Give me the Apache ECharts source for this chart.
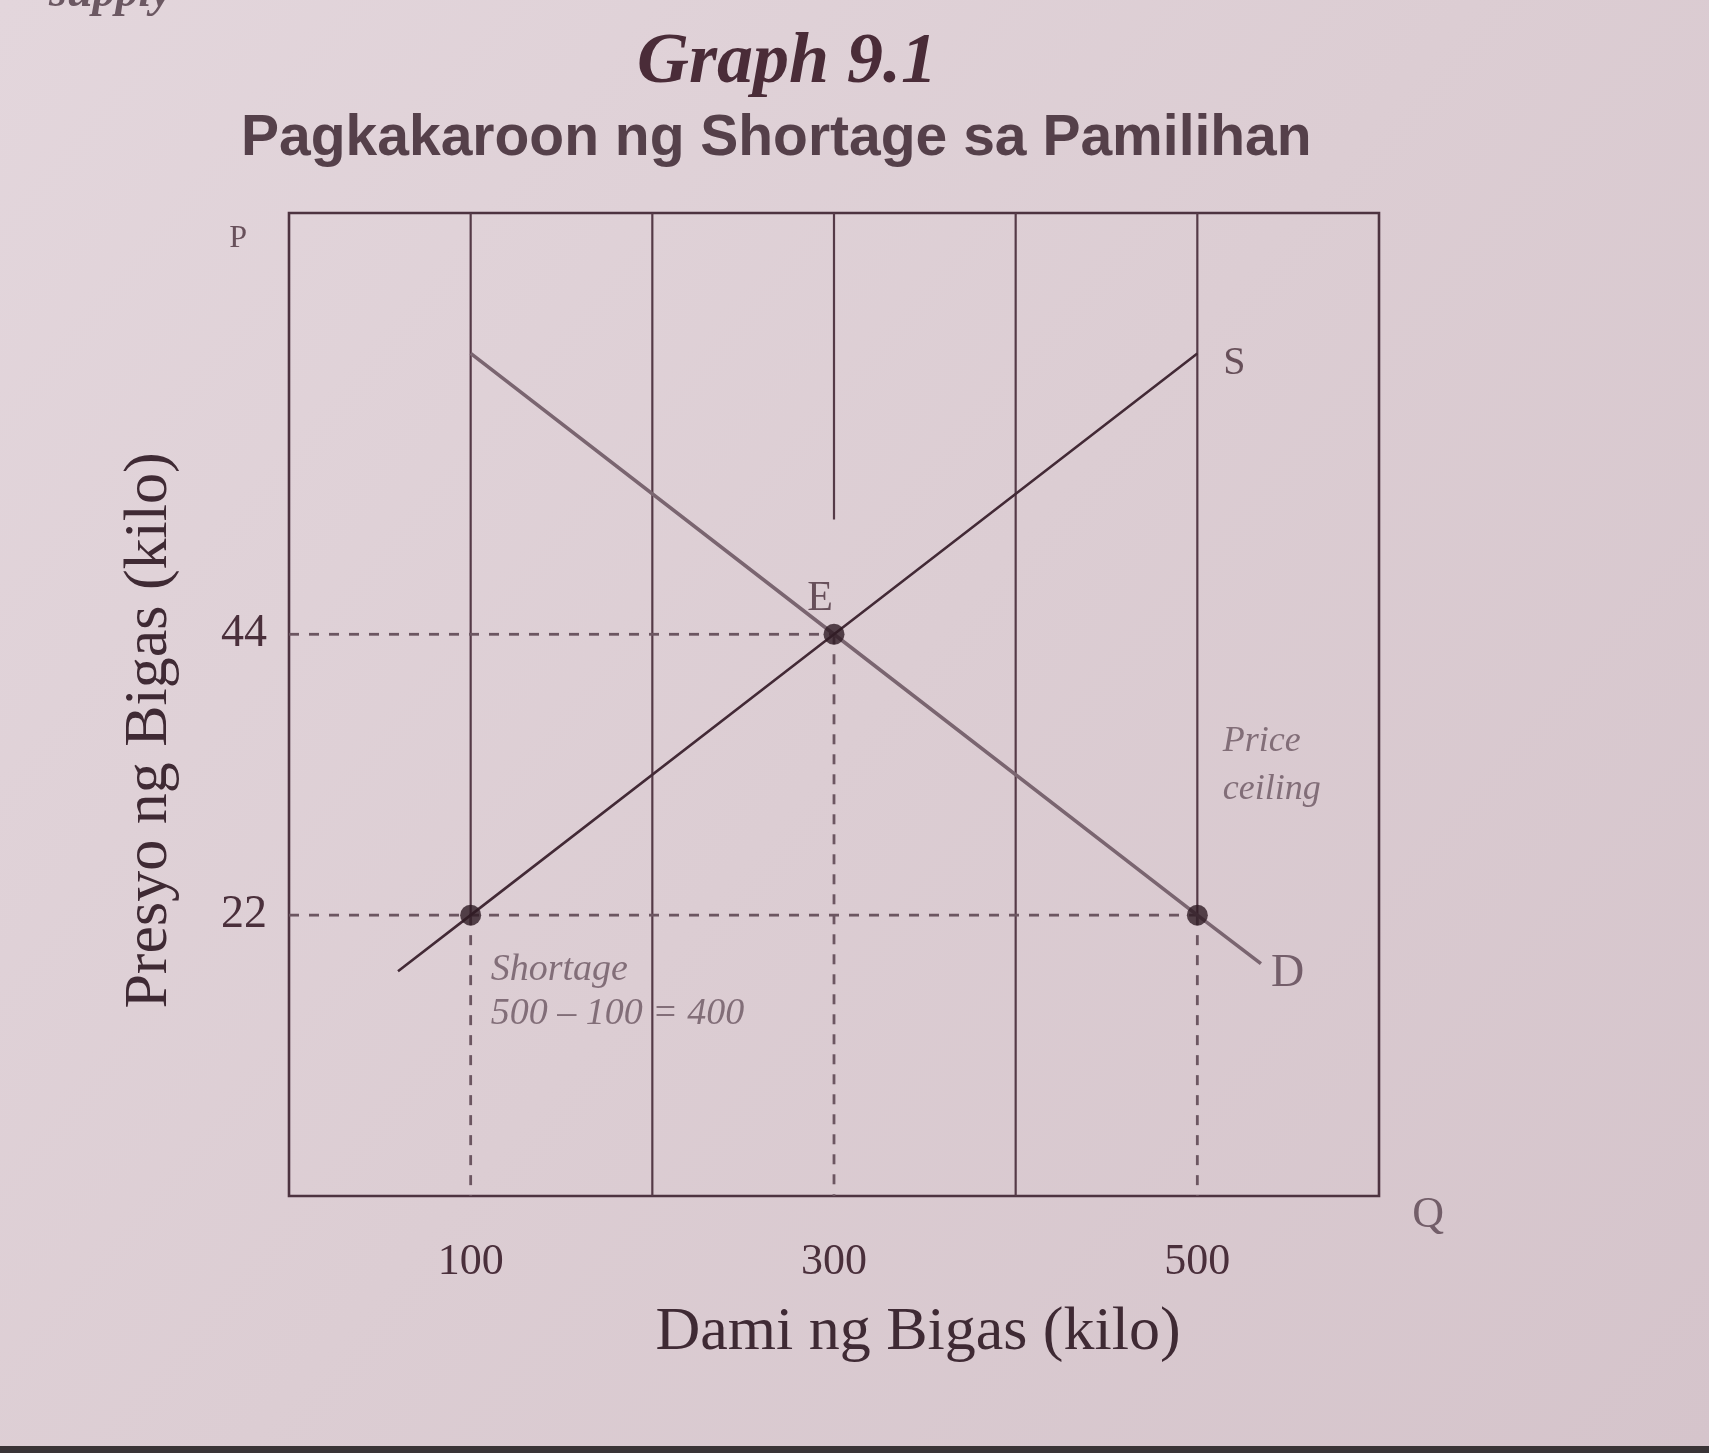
<!DOCTYPE html>
<html>
<head>
<meta charset="utf-8">
<script src="https://cdn.jsdelivr.net/npm/echarts@6/dist/echarts.min.js"></script>
<style>
  html, body { margin: 0; padding: 0; background: #dccdd3; }
  #chart { width: 1709px; height: 1453px; }
</style>
</head>
<body>
<div id="chart"></div>
<script>
// ---- data ----
const qtyTickLabels = [100, 300, 500];
const priceTickLabels = [22, 44];
const supplyQ = [60, 100, 300, 500];
const supplyP = [17.6, 22, 44, 66];
const demandQ = [100, 300, 500, 535];
const demandP = [66, 44, 22, 18.2];
const keyQ = [100, 300, 500];          // E, shortage ends
const keyP = [22, 44, 22];
const gridQ = [100, 200, 300, 400, 500];   // vertical rulings
const gridStopP = [22, 0, 53, 0, 22];      // where each solid ruling stops
const axisMaxQ = 600;
const axisMaxP = 77;

// annotation texts (anchored in data coordinates)
const noteText = ['E', 'S', 'D', 'Price\nceiling', 'Shortage\n500 – 100 = 400', 'P', 'Q'];
const noteQ = [300, 500, 535, 514, 111, -28, 627];
const noteP = [44, 66, 18.2, 33.7, 16, 75, -1.5];

const SERIF = '"Liberation Serif", "DejaVu Serif", serif';
const SANS = '"Liberation Sans", Arial, sans-serif';
const INK = '#4a2f3b';
const SOFT = '#6c5661';

const chart = echarts.init(document.getElementById('chart'), null, { renderer: 'canvas' });

const series = [];

// solid vertical rulings
gridQ.forEach((q, i) => {
  series.push({
    type: 'line', silent: true, symbol: 'none', z: 1,
    data: [[q, axisMaxP], [q, gridStopP[i]]],
    lineStyle: { color: '#553a47', width: 2.2 }
  });
});

// dashed drop lines from key points
keyQ.forEach((q, i) => {
  series.push({
    type: 'line', silent: true, symbol: 'none', z: 2,
    data: [[q, keyP[i]], [q, 0]],
    lineStyle: { color: SOFT, width: 2.8, type: [10, 10] }
  });
});

// dashed horizontal lines from the price axis to the farthest key point at that price
[...new Set(keyP)].forEach(p => {
  const farQ = Math.max(...keyQ.filter((q, i) => keyP[i] === p));
  series.push({
    type: 'line', silent: true, symbol: 'none', z: 2,
    data: [[0, p], [farQ, p]],
    lineStyle: { color: SOFT, width: 2.8, type: [10, 10] }
  });
});

// supply
series.push({
  name: 'S', type: 'line', symbol: 'none', z: 4,
  data: supplyQ.map((q, i) => [q, supplyP[i]]),
  lineStyle: { color: '#432a36', width: 2.6 }
});

// demand
series.push({
  name: 'D', type: 'line', symbol: 'none', z: 3,
  data: demandQ.map((q, i) => [q, demandP[i]]),
  lineStyle: { color: '#7a6570', width: 3.6 }
});

// key points
series.push({
  type: 'scatter', z: 6, symbolSize: 21,
  data: keyQ.map((q, i) => [q, keyP[i]]),
  itemStyle: { color: '#2e1a23' }
});

// annotation labels
const noteStyles = [
  { position: 'top', distance: 14, offset: [-14, 0], fontSize: 42, fontFamily: SERIF, color: INK },
  { position: 'right', distance: 26, offset: [0, 10], fontSize: 40, fontFamily: SERIF, color: INK },
  { position: 'right', distance: 10, offset: [0, 10], fontSize: 46, fontFamily: SERIF, color: '#5a4450' },
  { position: 'right', distance: 0, fontSize: 36, fontStyle: 'italic', fontFamily: SERIF, color: SOFT, lineHeight: 48, align: 'left' },
  { position: 'right', distance: 0, fontSize: 38, fontStyle: 'italic', fontFamily: SERIF, color: SOFT, lineHeight: 44, align: 'left' },
  { position: 'inside', fontSize: 32, fontFamily: SERIF, color: INK },
  { position: 'inside', fontSize: 44, fontFamily: SERIF, color: '#5a4450' }
];
series.push({
  type: 'scatter', z: 7, symbolSize: 0, clip: false, silent: true,
  itemStyle: { color: 'rgba(0,0,0,0)' },
  data: noteText.map((t, i) => ({
    value: [noteQ[i], noteP[i]],
    label: Object.assign({ show: true, formatter: t }, noteStyles[i])
  }))
});

const option = {
  backgroundColor: {
    type: 'linear', x: 0, y: 0, x2: 1, y2: 1,
    colorStops: [{ offset: 0, color: '#e3d6dc' }, { offset: 0.5, color: '#dccdd3' }, { offset: 1, color: '#d5c4cb' }]
  },
  animation: false,
  title: [
    {
      text: 'Graph 9.1', left: 632, top: 22,
      textStyle: { fontFamily: SERIF, fontSize: 72, fontStyle: 'italic', fontWeight: 'bold', color: '#4a2c38' }
    },
    {
      text: 'Pagkakaroon ng Shortage sa Pamilihan', left: 236, top: 106,
      textStyle: { fontFamily: SANS, fontSize: 57, fontWeight: 'bold', color: '#55404a' }
    },
    {
      text: 'supply', left: 44, top: -34,
      textStyle: { fontFamily: SERIF, fontSize: 46, fontStyle: 'italic', color: '#6b5862' }
    }
  ],
  grid: {
    left: 289, right: 330, top: 213, bottom: 257,
    show: true, borderColor: '#4d3340', borderWidth: 2.6, backgroundColor: 'transparent'
  },
  xAxis: {
    type: 'value', min: 0, max: axisMaxQ, interval: 100,
    axisLine: { show: false }, axisTick: { show: false }, splitLine: { show: false },
    axisLabel: {
      margin: 44, fontSize: 44, fontFamily: SERIF, color: INK,
      formatter: v => qtyTickLabels.includes(v) ? String(v) : ''
    },
    name: 'Dami ng Bigas (kilo)', nameLocation: 'middle', nameGap: 106,
    nameTextStyle: { fontFamily: SERIF, fontSize: 62, color: '#3f2a34', padding: [0, 0, 0, 168] }
  },
  yAxis: {
    type: 'value', min: 0, max: axisMaxP, interval: 11,
    axisLine: { show: false }, axisTick: { show: false }, splitLine: { show: false },
    axisLabel: {
      margin: 22, fontSize: 46, fontFamily: SERIF, color: INK,
      formatter: v => priceTickLabels.includes(v) ? String(v) : ''
    },
    name: 'Presyo ng Bigas (kilo)', nameLocation: 'middle', nameGap: 108, nameRotate: 90,
    nameTextStyle: { fontFamily: SERIF, fontSize: 62, color: '#3f2a34', padding: [0, 52, 0, 0] }
  },
  graphic: [
    { type: 'rect', left: 0, bottom: 0, shape: { width: 1709, height: 7 }, style: { fill: '#3a3436' } }
  ],
  series: series
};

chart.setOption(option);
</script>
</body>
</html>
